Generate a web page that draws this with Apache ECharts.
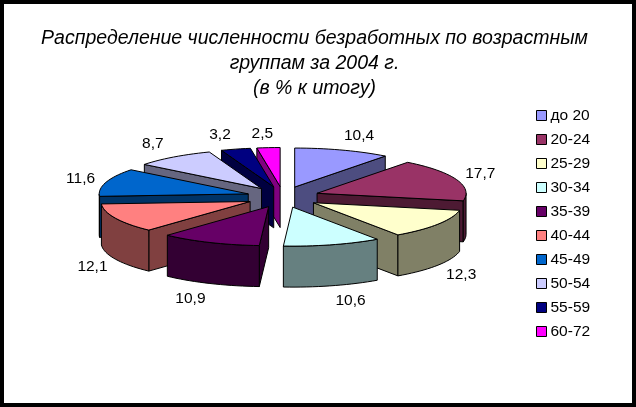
<!DOCTYPE html>
<html>
<head>
<meta charset="utf-8">
<style>
html, body { margin: 0; padding: 0; background: #fff; }
#chart { width: 636px; height: 407px; }
</style>
<script src="https://cdn.jsdelivr.net/npm/echarts@6/dist/echarts.min.js"></script>
</head>
<body>
<div id="chart"></div>
<script>
var categories = ['до 20', '20-24', '25-29', '30-34', '35-39', '40-44', '45-49', '50-54', '55-59', '60-72'];
var values = [10.4, 17.7, 12.3, 10.6, 10.9, 12.1, 11.6, 8.7, 3.2, 2.5];
var valueLabels = ['10,4', '17,7', '12,3', '10,6', '10,9', '12,1', '11,6', '8,7', '3,2', '2,5'];
var topColors = ['#9999FF', '#993366', '#FFFFCC', '#CCFFFF', '#660066', '#FF8080', '#0066CC', '#CCCCFF', '#000080', '#FF00FF'];
var sideColors = ['#4D4D80', '#4D1A33', '#808066', '#668080', '#330033', '#804040', '#003366', '#666680', '#000040', '#800080'];
var labelNudgeX = [8, -1, 1, 11, -9, 1, 0, -5, -9, -4];
var labelNudgeY = [0, 0, 19, 1, 3, 24, 1, -1, 1, 2];

// pseudo 3d projection of the pie
var cx = 283, cy = 197;
var rx = 149, ry = 39;
var depth = 41;
var explodeX = 36.4, explodeY = 10.5;

var total = values.reduce(function (a, b) { return a + b; }, 0);
var starts = [];
var sum = 0;
values.forEach(function (v) {
    starts.push(sum / total * 2 * Math.PI);
    sum += v;
});

function arcPoints(ax, ay, a1, a2) {
    var pts = [];
    var n = Math.max(2, Math.ceil((a2 - a1) / 0.04));
    for (var i = 0; i <= n; i++) {
        var a = a1 + (a2 - a1) * i / n;
        pts.push([ax + rx * Math.sin(a), ay - ry * Math.cos(a)]);
    }
    return pts;
}

function face(points, color) {
    return {
        type: 'polygon',
        shape: { points: points },
        style: { fill: color, stroke: '#000', lineWidth: 1 }
    };
}

function drop(points) {
    return points.map(function (p) { return [p[0], p[1] + depth]; }).reverse();
}

function makeRender(idx) {
    return function (params, api) {
        var a1 = starts[idx];
        var a2 = a1 + api.value(0) / total * 2 * Math.PI;
        var mid = (a1 + a2) / 2;
        var ax = cx + explodeX * Math.sin(mid);
        var ay = cy - explodeY * Math.cos(mid);
        var apex = [ax, ay];
        var arc = arcPoints(ax, ay, a1, a2);
        var kids = [];

        // radial faces, only the ones turned to the viewer
        if (Math.sin(a1) < -1e-6) {
            var s = [apex, arc[0]];
            kids.push(face(s.concat(drop(s)), sideColors[idx]));
        }
        if (Math.sin(a2) > 1e-6) {
            var e = [apex, arc[arc.length - 1]];
            kids.push(face(e.concat(drop(e)), sideColors[idx]));
        }
        // outer wall on the front half
        var w1 = Math.max(a1, Math.PI / 2), w2 = Math.min(a2, Math.PI * 1.5);
        if (w2 > w1) {
            var w = arcPoints(ax, ay, w1, w2);
            kids.push(face(w.concat(drop(w)), sideColors[idx]));
        }
        kids.push(face([apex].concat(arc), topColors[idx]));

        // value label
        var down = Math.cos(mid) < 0;
        kids.push({
            type: 'text',
            style: {
                text: valueLabels[idx],
                x: cx + 212 * Math.sin(mid) + labelNudgeX[idx],
                y: cy - (down ? 107 : 65) * Math.cos(mid) + labelNudgeY[idx],
                align: 'center',
                verticalAlign: 'middle',
                fill: '#000',
                font: '15.5px "Liberation Sans"'
            }
        });
        return { type: 'group', children: kids };
    };
}

// back to front
var depthOrder = categories.map(function (c, i) {
    var mid = starts[i] + values[i] / total * Math.PI;
    return { i: i, c: Math.cos(mid) };
}).sort(function (a, b) { return b.c - a.c; });

var series = depthOrder.map(function (d, rank) {
    var i = d.i;
    return {
        type: 'custom',
        name: categories[i],
        coordinateSystem: 'none',
        z: 2 + rank,
        silent: true,
        itemStyle: { color: topColors[i] },
        renderItem: makeRender(i),
        data: [[values[i]]]
    };
});

var myChart = echarts.init(document.getElementById('chart'));
myChart.setOption({
    animation: false,
    backgroundColor: '#fff',
    title: {
        text: 'Распределение численности безработных по возрастным\nгруппам за 2004 г.\n(в % к итогу)',
        left: 309.5,
        top: 21,
        textAlign: 'center',
        textStyle: {
            fontFamily: 'Liberation Sans',
            fontStyle: 'italic',
            fontWeight: 'normal',
            fontSize: 19.5,
            lineHeight: 25,
            color: '#000'
        }
    },
    legend: {
        orient: 'vertical',
        left: 536,
        top: 107,
        icon: 'rect',
        itemWidth: 10,
        itemHeight: 10,
        itemGap: 24 - 17,
        padding: 0,
        data: categories,
        selectedMode: false,
        itemStyle: { borderColor: '#000', borderWidth: 1 },
        textStyle: { fontFamily: 'Liberation Sans', fontSize: 15.5, color: '#000', padding: [0, 0, 0, -1], height: 17, lineHeight: 17 }
    },
    graphic: [{
        type: 'rect',
        silent: true,
        z: 100,
        shape: { x: 2, y: 2, width: 632, height: 403 },
        style: { fill: 'none', stroke: '#000', lineWidth: 4 }
    }],
    series: series
});
</script>
</body>
</html>
